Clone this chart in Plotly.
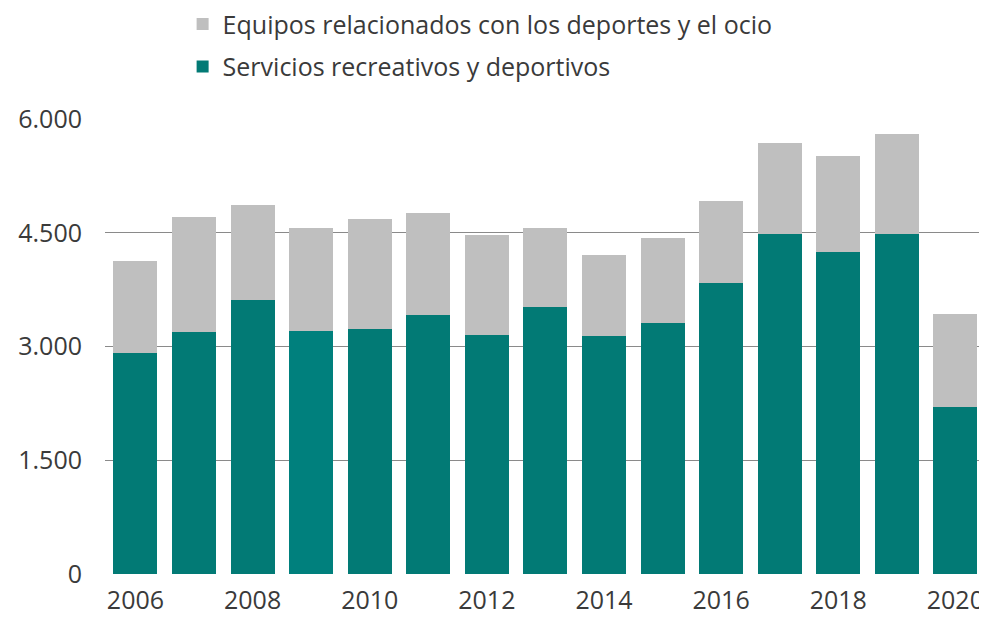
import plotly.graph_objects as go

years = list(range(2006, 2021))
servicios = [2917, 3189, 3608, 3211, 3225, 3419, 3154, 3524, 3132, 3304, 3837, 4490, 4242, 4485, 2207]
totales = [4133, 4709, 4868, 4559, 4687, 4762, 4471, 4559, 4207, 4427, 4920, 5687, 5511, 5802, 3432]
equipos = [t - s for t, s in zip(totales, servicios)]

name_equipos = "Equipos relacionados con los deportes y el ocio"
name_servicios = "Servicios recreativos y deportivos"

tick_vals = [0, 1500, 3000, 4500, 6000]
tick_text = ["0", "1.500", "3.000", "4.500", "6.000"]
x_ticks = [2006, 2008, 2010, 2012, 2014, 2016, 2018, 2020]

teal = "#027A75"
teal_colors = [teal] * len(years)
teal_colors[years.index(2009)] = "#00807D"
gray = "#BFBFBF"

fig = go.Figure()
fig.add_trace(go.Bar(x=years, y=servicios, name=name_servicios, marker=dict(color=teal_colors, line=dict(width=0)),
                     legendgroup="s", legendrank=2))
fig.add_trace(go.Bar(x=years, y=equipos, name=name_equipos, marker=dict(color=gray, line=dict(width=0)),
                     legendgroup="e", legendrank=1))

font_family = "'Open Sans', Lato, sans-serif"
fig.update_layout(
    barmode="stack",
    bargap=0.25,
    width=979, height=609,
    margin=dict(l=97, r=0, t=111, b=43, autoexpand=False),
    paper_bgcolor="white", plot_bgcolor="white",
    font=dict(family=font_family, size=25, color="#3A3A3A"),
    legend=dict(orientation="v", x=0.088, y=1.259, xanchor="left", yanchor="top",
                font=dict(size=25, color="#3A3A3A"), tracegroupgap=7,
                traceorder="grouped", itemclick=False, bgcolor="rgba(0,0,0,0)"),
    xaxis=dict(range=[2005.48, 2020.54], tickvals=x_ticks, ticktext=[str(v) for v in x_ticks],
               showgrid=False, zeroline=False, showline=False, ticks="", tickfont=dict(size=25),
               ticklabelstandoff=9),
    yaxis=dict(range=[0, 6000], tickvals=tick_vals, ticktext=tick_text, showgrid=True,
               gridcolor="#8A8A8A", gridwidth=1, zeroline=False, showline=False, ticks="",
               ticklabelstandoff=22, tickfont=dict(size=25)),
)

fig.write_html("out.html")
